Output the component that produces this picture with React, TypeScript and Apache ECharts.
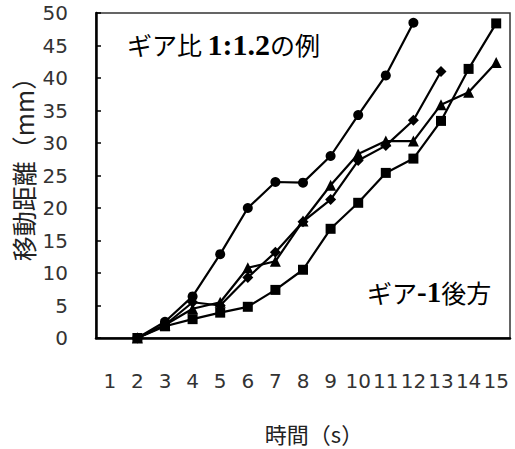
import React, { useEffect, useRef } from "react";
import * as echarts from "echarts";

const categories = ["1", "2", "3", "4", "5", "6", "7", "8", "9", "10", "11", "12", "13", "14", "15"];
const circleSeries = [null, 0, 2.5, 6.4, 12.9, 20, 24, 23.9, 28, 34.3, 40.4, 48.5];
const squareSeries = [null, 0, 1.8, 2.9, 3.9, 4.8, 7.4, 10.5, 16.8, 20.8, 25.4, 27.6, 33.4, 41.4, 48.4];
const triangleSeries = [null, 0, 2, 4.5, 5.5, 10.8, 11.8, 18, 23.5, 28.3, 30.3, 30.3, 35.9, 37.8, 42.4];
const diamondSeries = [null, 0, 2, 5.5, 5, 9.3, 13.2, 17.9, 21.3, 27.3, 29.6, 33.5, 41];
const yTicks = { min: 0, max: 50, interval: 5 };
const xTitle = "時間（s）";
const yTitle = "移動距離（mm）";

const sans = "DejaVu Sans";
const jp = "Noto Sans CJK JP";
const serif = "Liberation Serif";

export default function App() {
  const ref = useRef<HTMLDivElement>(null);
  useEffect(() => {
    if (!ref.current) return;
    const chart = echarts.init(ref.current, null, { renderer: "svg" });
    const mk = (name: string, data: (number | null)[], symbol: string, size: number) => ({
      name,
      type: "line",
      data,
      symbol,
      symbolSize: size,
      showAllSymbol: true,
      connectNulls: false,
      lineStyle: { color: "#000", width: 2.2 },
      itemStyle: { color: "#000" },
    });
    chart.setOption({
      animation: false,
      grid: { left: 96, top: 13, right: 5, bottom: 111, show: true, borderColor: "#333", borderWidth: 1.5 },
      xAxis: {
        type: "category",
        data: categories,
        boundaryGap: true,
        axisLine: { lineStyle: { color: "#000", width: 2.5 } },
        axisTick: { inside: true, length: 6, lineStyle: { color: "#000", width: 1.5 } },
        axisLabel: { fontFamily: sans, fontSize: 20, color: "#333", margin: 33, interval: 0 },
        splitLine: { show: false },
      },
      yAxis: {
        type: "value",
        min: yTicks.min,
        max: yTicks.max,
        interval: yTicks.interval,
        axisLine: { show: true, lineStyle: { color: "#000", width: 2.5 } },
        axisTick: { show: true, inside: true, length: 5, lineStyle: { color: "#000", width: 1.5 } },
        axisLabel: { fontFamily: sans, fontSize: 20, color: "#333", margin: 28 },
        splitLine: { show: false },
      },
      series: [
        mk("circle", circleSeries, "circle", 10),
        mk("square", squareSeries, "rect", 10),
        mk("triangle", triangleSeries, "triangle", 11),
        mk("diamond", diamondSeries, "diamond", 11),
      ],
      graphic: [
        {
          type: "text",
          x: 314,
          y: 433,
          style: {
            text: xTitle,
            fontFamily: jp,
            fontSize: 22,
            fill: "#222",
            textAlign: "center",
            textVerticalAlign: "middle",
          },
        },
        {
          type: "text",
          x: 23,
          y: 163,
          rotation: Math.PI / 2,
          style: {
            text: yTitle,
            fontFamily: jp,
            fontSize: 25,
            fill: "#222",
            textAlign: "center",
            textVerticalAlign: "middle",
          },
        },
        {
          type: "text",
          left: 127,
          top: 29,
          style: {
            text: "{a|ギア比 }{b|1:1.2}{a|の例}",
            rich: {
              a: { fontFamily: jp, fontSize: 25, fill: "#000" },
              b: { fontFamily: serif, fontSize: 30, fontWeight: "bold", fill: "#000" },
            },
          },
        },
        {
          type: "text",
          left: 367,
          top: 277,
          style: {
            text: "{a|ギア}{b|-1}{a|後方}",
            rich: {
              a: { fontFamily: jp, fontSize: 25, fill: "#000" },
              b: { fontFamily: serif, fontSize: 29, fontWeight: "bold", fill: "#000" },
            },
          },
        },
      ],
    });
    return () => chart.dispose();
  }, []);
  return <div ref={ref} style={{ width: 515, height: 449, position: "absolute", left: 0, top: 0, background: "#fff" }} />;
}
